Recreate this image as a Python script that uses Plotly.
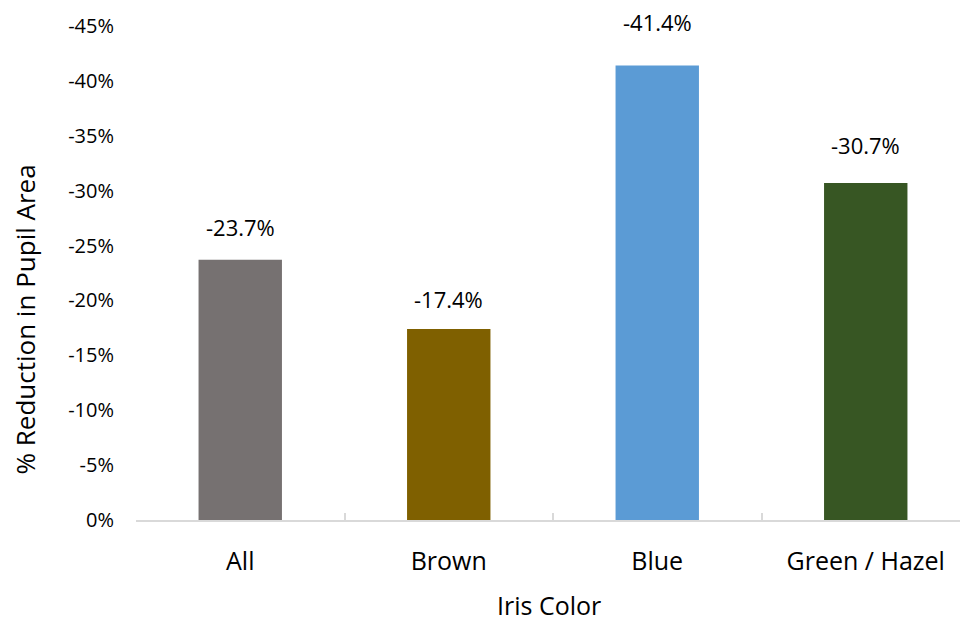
import plotly.graph_objects as go

categories = ["All", "Brown", "Blue", "Green / Hazel"]
values = [-0.237, -0.174, -0.414, -0.307]
bar_colors = ["#767171", "#7F6000", "#5B9BD5", "#375623"]
y_tick_vals = [0, -0.05, -0.10, -0.15, -0.20, -0.25, -0.30, -0.35, -0.40, -0.45]
y_tick_text = ["0%", "-5%", "-10%", "-15%", "-20%", "-25%", "-30%", "-35%", "-40%", "-45%"]
x_title = "Iris Color"
y_title = "% Reduction in Pupil Area"

# data-label offsets above each bar (pixels), as placed in the original
label_offsets = [16, 13, 27, 21]

FONT = "Open Sans"
W, H = 960, 621
ML, MR, MT, MB = 136, 0, 26, 101
plot_w = W - ML - MR
plot_h = H - MT - MB

fig = go.Figure()
fig.add_trace(go.Bar(
    x=categories, y=values,
    marker=dict(color=bar_colors, line=dict(width=0)),
    width=0.4,
    hoverinfo="skip",
))

for c, v, off in zip(categories, values, label_offsets):
    fig.add_annotation(
        x=c, y=v, xref="x", yref="y",
        text=f"{v*100:.1f}%",
        showarrow=False, yanchor="bottom", yshift=off,
        font=dict(family=FONT, size=22, color="#000000"),
    )

# axis titles
fig.add_annotation(
    xref="paper", yref="paper",
    x=(24 - ML) / plot_w, y=(H - MB - 319.5) / plot_h,
    text=y_title, textangle=-90, showarrow=False,
    xanchor="center", yanchor="middle",
    font=dict(family=FONT, size=26, color="#000000"),
)
fig.add_annotation(
    xref="paper", yref="paper",
    x=(549 - ML) / plot_w, y=(H - MB - 605) / plot_h,
    text=x_title, showarrow=False,
    xanchor="center", yanchor="middle",
    font=dict(family=FONT, size=25, color="#000000"),
)

x_end = -0.5 + plot_w / 208.5

fig.update_layout(
    width=W, height=H,
    margin=dict(l=ML, r=MR, t=MT, b=MB, pad=0),
    plot_bgcolor="white", paper_bgcolor="white",
    showlegend=False,
    font=dict(family=FONT, color="#000000"),
)
fig.update_xaxes(
    range=[-0.5, x_end],
    showline=True, linecolor="#D9D9D9", linewidth=1.5,
    ticks="inside", tickson="boundaries", ticklen=7, tickcolor="#D9D9D9", tickwidth=1.5,
    showgrid=False, zeroline=False,
    tickfont=dict(family=FONT, size=25, color="#000000"),
    ticklabelstandoff=18,
)
fig.update_yaxes(
    range=[0, -0.45],
    tickvals=y_tick_vals, ticktext=y_tick_text,
    showline=False, showgrid=False, zeroline=False, ticks="",
    tickfont=dict(family=FONT, size=20, color="#000000"),
    ticklabelstandoff=21,
)

fig.write_html("out.html")
